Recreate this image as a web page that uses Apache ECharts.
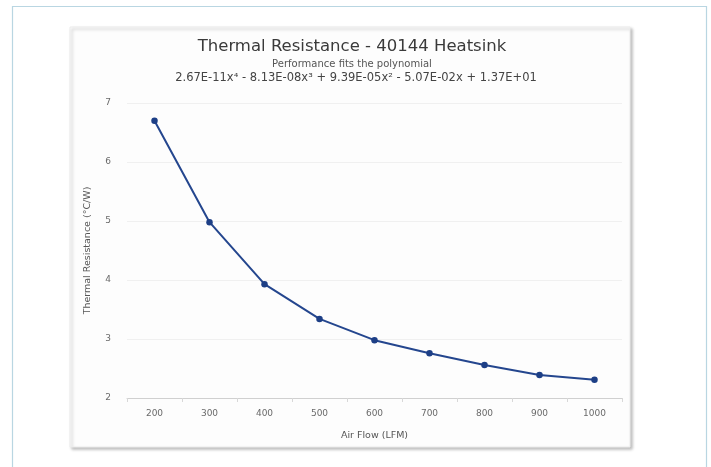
<!DOCTYPE html>
<html>
<head>
<meta charset="utf-8">
<script src="https://cdn.jsdelivr.net/npm/echarts@6/dist/echarts.min.js"></script>
<style>
  html, body { margin: 0; padding: 0; background: #ffffff; }
  #chart { width: 711px; height: 467px; }
</style>
</head>
<body>
<div id="chart"></div>
<script>
// Air flow steps (LFM) and measured thermal resistance (°C/W)
const airFlow = ['200', '300', '400', '500', '600', '700', '800', '900', '1000'];
const thermalResistance = [6.70, 4.98, 3.93, 3.34, 2.98, 2.76, 2.56, 2.39, 2.31];
const yTicks = { min: 2, max: 7, interval: 1 };

const titleText = 'Thermal Resistance - 40144 Heatsink';
const subtitleText = 'Performance fits the polynomial';
const formulaText = '2.67E-11x⁴ - 8.13E-08x³ + 9.39E-05x² - 5.07E-02x + 1.37E+01';

const chart = echarts.init(document.getElementById('chart'), null, { renderer: 'canvas' });
const FONT = '"Lucida Grande", "DejaVu Sans", sans-serif';
const CARD_CX = 352;

chart.setOption({
  backgroundColor: '#ffffff',
  animation: false,
  graphic: [
    // outer page frame
    {
      type: 'rect', z: -10, silent: true,
      shape: { x: 12.5, y: 6.5, width: 694, height: 480 },
      style: { fill: '#ffffff', stroke: '#b9d6e2', lineWidth: 1.2 }
    },
    // chart card with soft shadow
    {
      type: 'rect', z: -9, silent: true,
      shape: { x: 70, y: 27, width: 560, height: 420 },
      style: {
        fill: '#fdfdfd', stroke: '#ececec', lineWidth: 1,
        shadowBlur: 3, shadowOffsetX: 2, shadowOffsetY: 2, shadowColor: 'rgba(0,0,0,0.25)'
      }
    },
    {
      type: 'text', x: CARD_CX, y: 47,
      style: { text: titleText, font: '16.5px ' + FONT, fill: '#3a3a3a', align: 'center', verticalAlign: 'middle' }
    },
    {
      type: 'text', x: CARD_CX, y: 64,
      style: { text: subtitleText, font: '10px ' + FONT, fill: '#555555', align: 'center', verticalAlign: 'middle' }
    },
    {
      type: 'text', x: CARD_CX + 4, y: 78,
      style: { text: formulaText, font: '11.5px ' + FONT, fill: '#444444', align: 'center', verticalAlign: 'middle' }
    }
  ],
  grid: { left: 127, right: 89, top: 103, bottom: 69 },
  xAxis: {
    type: 'category',
    data: airFlow,
    boundaryGap: true,
    name: 'Air Flow (LFM)',
    nameLocation: 'middle',
    nameGap: 33,
    nameTextStyle: { fontFamily: FONT, fontSize: 9.5, color: '#555555' },
    axisLine: { show: true, lineStyle: { color: '#d0d0d0', width: 1 } },
    axisTick: { show: true, length: 4, lineStyle: { color: '#d8d8d8' } },
    axisLabel: { fontFamily: FONT, fontSize: 9, color: '#6a6a6a', margin: 11 },
    splitLine: { show: false }
  },
  yAxis: {
    type: 'value',
    min: yTicks.min,
    max: yTicks.max,
    interval: yTicks.interval,
    name: 'Thermal Resistance (°C/W)',
    nameLocation: 'middle',
    nameGap: 34,
    nameMoveOverlap: false,
    nameTextStyle: { fontFamily: FONT, fontSize: 9.5, color: '#555555' },
    axisLine: { show: false },
    axisTick: { show: false },
    axisLabel: { fontFamily: FONT, fontSize: 9, color: '#6a6a6a', margin: 16 },
    splitLine: { show: true, lineStyle: { color: '#f0f0f0', width: 1 } }
  },
  series: [{
    type: 'line',
    data: thermalResistance,
    smooth: false,
    symbol: 'circle',
    symbolSize: 6.5,
    lineStyle: { color: '#24468e', width: 2 },
    itemStyle: { color: '#1d3f86' }
  }]
});
</script>
</body>
</html>
